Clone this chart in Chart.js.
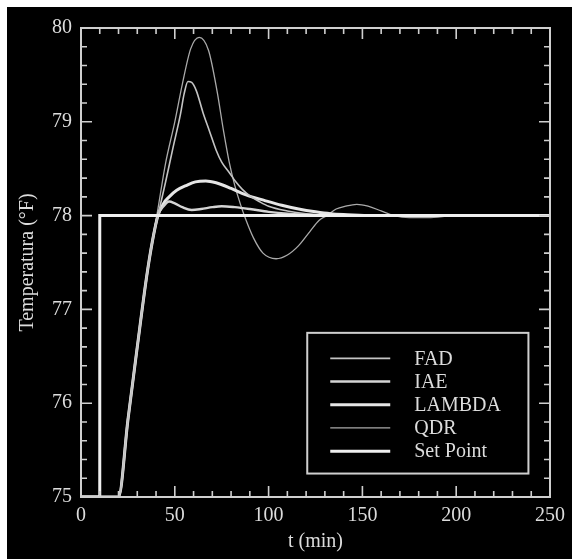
<!DOCTYPE html>
<html>
<head>
<meta charset="utf-8">
<script src="https://cdn.jsdelivr.net/npm/chart.js@4.4.1/dist/chart.umd.min.js"></script>
<style>
  html, body { margin: 0; padding: 0; background: #ffffff; }
  #wrap { position: absolute; left: 7px; top: 7px; width: 565px; height: 552px; background: #000000; }
  canvas { display: block; }
</style>
</head>
<body>
<div id="wrap"><canvas id="c" width="565" height="552"></canvas></div>
<script>
// ---- data ----
const seriesNames = ['FAD', 'IAE', 'LAMBDA', 'QDR', 'Set Point'];

const tFAD = [0, 20, 25, 30, 35, 38, 41, 45, 49, 53, 55, 57, 59, 61.5, 65, 68.5, 72, 75, 79, 82.5, 86, 90, 95, 100, 110, 120, 135, 250];
const vFAD = [75, 75, 75.82, 76.6, 77.35, 77.72, 78.0, 78.35, 78.72, 79.08, 79.3, 79.43, 79.42, 79.33, 79.1, 78.9, 78.7, 78.57, 78.46, 78.36, 78.28, 78.21, 78.15, 78.1, 78.05, 78.02, 78.0, 78];

const tIAE = [0, 20, 25, 30, 35, 38, 41, 44, 47, 50, 54, 59, 64, 70, 75, 82, 90, 100, 110, 120, 135, 250];
const vIAE = [75, 75, 75.82, 76.6, 77.35, 77.72, 78.0, 78.1, 78.15, 78.13, 78.09, 78.06, 78.07, 78.09, 78.1, 78.09, 78.07, 78.04, 78.02, 78.01, 78.0, 78];

const tLAMBDA = [0, 20, 25, 30, 35, 38, 41, 44, 47, 51, 56, 61, 66.5, 72, 80, 88, 98, 107, 116, 125, 133, 142, 155, 250];
const vLAMBDA = [75, 75, 75.82, 76.6, 77.35, 77.72, 78.0, 78.13, 78.2, 78.27, 78.32, 78.36, 78.37, 78.35, 78.29, 78.22, 78.16, 78.11, 78.07, 78.04, 78.02, 78.01, 78.0, 78];

const tQDR = [0, 20, 25, 30, 35, 38, 41, 45, 50, 54, 58.5, 63, 68, 72.5, 76, 79, 82, 85, 88, 92, 97, 104, 110, 116, 122, 127, 131, 136, 141, 147, 153, 160, 167, 175, 185, 200, 250];
const vQDR = [75, 75, 75.82, 76.6, 77.35, 77.72, 78.07, 78.55, 79.0, 79.4, 79.78, 79.9, 79.76, 79.33, 78.9, 78.57, 78.32, 78.12, 77.95, 77.76, 77.6, 77.54, 77.58, 77.68, 77.83, 77.95, 78.0, 78.07, 78.1, 78.12, 78.1, 78.05, 78.0, 77.98, 77.98, 78.0, 78];

const tSet = [0, 10, 10, 250];
const vSet = [75, 75, 78, 78];

const xTickLabels = [0, 50, 100, 150, 200, 250];
const yTickLabels = [75, 76, 77, 78, 79, 80];

// ---- helpers ----
function pts(ts, vs) { return ts.map((t, i) => ({ x: t, y: vs[i] })); }

const FONT = "'Liberation Serif', 'Times New Roman', serif";
const TXT = '#dcdcdc';
const AXIS = '#cfcfcf';

const styles = {
  'FAD':       { color: '#c4c4c4', width: 1.6 },
  'IAE':       { color: '#d4d4d4', width: 2.4 },
  'LAMBDA':    { color: '#e6e6e6', width: 3 },
  'QDR':       { color: '#aaaaaa', width: 1.3 },
  'Set Point': { color: '#efefef', width: 3 }
};

const seriesData = [pts(tFAD, vFAD), pts(tIAE, vIAE), pts(tLAMBDA, vLAMBDA), pts(tQDR, vQDR), pts(tSet, vSet)];

const datasets = seriesNames.map((name, i) => ({
  label: name,
  data: seriesData[i],
  showLine: true,
  borderColor: styles[name].color,
  backgroundColor: styles[name].color,
  borderWidth: styles[name].width,
  pointRadius: 0,
  pointHoverRadius: 0,
  cubicInterpolationMode: name === 'Set Point' ? 'default' : 'monotone',
  tension: 0,
  fill: false,
  order: name === 'Set Point' ? 0 : i + 1
}));

// frame with inward ticks on all four sides, placed via the chart's scales
const frameTicks = {
  id: 'frameTicks',
  afterDatasetsDraw(chart) {
    const { ctx, chartArea: a, scales: { x, y } } = chart;
    ctx.save();
    ctx.strokeStyle = AXIS;
    ctx.lineWidth = 1.6;
    ctx.beginPath();
    for (let v = 0; v <= 250; v += 10) {
      const px = x.getPixelForValue(v);
      const len = (v % 50 === 0) ? 11 : 6;
      ctx.moveTo(px, a.bottom); ctx.lineTo(px, a.bottom - len);
      ctx.moveTo(px, a.top); ctx.lineTo(px, a.top + len);
    }
    for (let k = 0; k <= 25; k++) {
      const v = 75 + k * 0.2;
      const py = y.getPixelForValue(v);
      const len = (k % 5 === 0) ? 11 : 6;
      ctx.moveTo(a.left, py); ctx.lineTo(a.left + len, py);
      ctx.moveTo(a.right, py); ctx.lineTo(a.right - len, py);
    }
    ctx.stroke();
    ctx.lineWidth = 2;
    ctx.strokeRect(a.left, a.top, a.right - a.left, a.bottom - a.top);
    ctx.restore();
  }
};

// legend box inside the plot area
const boxLegend = {
  id: 'boxLegend',
  afterDraw(chart) {
    const { ctx, scales: { x, y } } = chart;
    const left = x.getPixelForValue(120.6), right = x.getPixelForValue(238.5);
    const top = y.getPixelForValue(76.75), bottom = y.getPixelForValue(75.25);
    ctx.save();
    ctx.strokeStyle = AXIS;
    ctx.lineWidth = 2;
    ctx.strokeRect(left, top, right - left, bottom - top);
    ctx.font = '20px ' + FONT;
    ctx.textBaseline = 'middle';
    ctx.fillStyle = TXT;
    chart.data.datasets.forEach((ds, i) => {
      const yy = top + 25.5 + i * 23.2;
      ctx.strokeStyle = ds.borderColor;
      ctx.lineWidth = ds.borderWidth;
      ctx.beginPath();
      ctx.moveTo(left + 23, yy);
      ctx.lineTo(left + 83, yy);
      ctx.stroke();
      ctx.fillText(ds.label, left + 107, yy + 1);
    });
    ctx.restore();
  }
};

new Chart(document.getElementById('c'), {
  type: 'scatter',
  data: { datasets },
  options: {
    responsive: false,
    animation: false,
    events: [],
    layout: { padding: { top: 21, right: 19, left: 0, bottom: 0 } },
    plugins: { legend: { display: false }, tooltip: { enabled: false } },
    scales: {
      x: {
        type: 'linear', min: 0, max: 250,
        afterBuildTicks: s => { s.ticks = xTickLabels.map(v => ({ value: v })); },
        afterFit: s => { s.height = 62; },
        grid: { display: false, drawTicks: false },
        border: { display: false },
        ticks: { color: TXT, font: { family: FONT, size: 20 }, padding: 7, maxRotation: 0, autoSkip: false },
        title: { display: true, text: 't (min)', color: TXT, font: { family: FONT, size: 20 }, padding: { top: 0, bottom: 5 } }
      },
      y: {
        type: 'linear', min: 75, max: 80,
        afterBuildTicks: s => { s.ticks = yTickLabels.map(v => ({ value: v })); },
        afterFit: s => { s.width = 74; },
        grid: { display: false, drawTicks: false },
        border: { display: false },
        ticks: { color: TXT, font: { family: FONT, size: 20 }, padding: 9, autoSkip: false },
        title: { display: true, text: 'Temperatura (°F)', color: TXT, font: { family: FONT, size: 20 }, padding: { top: 9, bottom: 0 } }
      }
    }
  },
  plugins: [frameTicks, boxLegend]
});
</script>
</body>
</html>
